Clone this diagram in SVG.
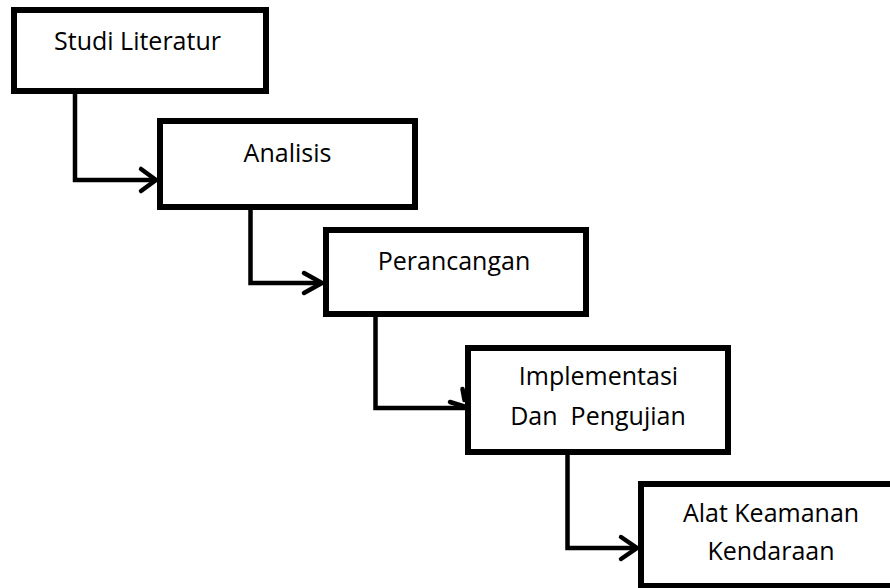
<svg xmlns="http://www.w3.org/2000/svg" width="890" height="588" viewBox="0 0 890 588">
<style>
.box{fill:#fff;stroke:#000;stroke-width:6}
.lbl{font-family:"Open Sans","Noto Sans",sans-serif;font-size:25px;fill:#000;text-anchor:middle;white-space:pre}
.con{fill:none;stroke:#000;stroke-width:4.5}
.head{fill:none;stroke:#000;stroke-width:4.5;stroke-linecap:round;stroke-linejoin:miter}
</style>
<rect width="890" height="588" fill="#fff"/>
<g id="connectors">
<path class="con" d="M75,94 V180 H155"/>
<path class="head" d="M141,169 L156,180 L141,191"/>
<path class="con" d="M250.5,210 V283 H321"/>
<path class="head" d="M304,273 L322,283 L304,293"/>
<path class="con" d="M375.5,317 V408 H466"/>
<path class="head" d="M450,402 L466,407 M462.5,389 L464.5,400"/>
<path class="con" d="M567.5,453 V548 H636"/>
<path class="head" d="M621,537 L637,548 L621,559"/>
</g>
<g id="studi-literatur">
<rect class="box" x="14" y="10" width="252" height="81"/>
<text class="lbl" x="137.5" y="50">Studi Literatur</text>
</g>
<g id="analisis">
<rect class="box" x="160" y="121" width="255" height="86"/>
<text class="lbl" x="287.5" y="162">Analisis</text>
</g>
<g id="perancangan">
<rect class="box" x="326" y="230" width="260" height="84"/>
<text class="lbl" x="454" y="270">Perancangan</text>
</g>
<g id="implementasi">
<rect class="box" x="468" y="348" width="260" height="104"/>
<text class="lbl" x="598.5" y="385">Implementasi</text>
<text class="lbl" x="598" y="425" xml:space="preserve">Dan  Pengujian</text>
</g>
<g id="alat-keamanan">
<rect class="box" x="641" y="484" width="260" height="102"/>
<text class="lbl" x="771" y="522">Alat Keamanan</text>
<text class="lbl" x="771" y="560">Kendaraan</text>
</g>
</svg>
